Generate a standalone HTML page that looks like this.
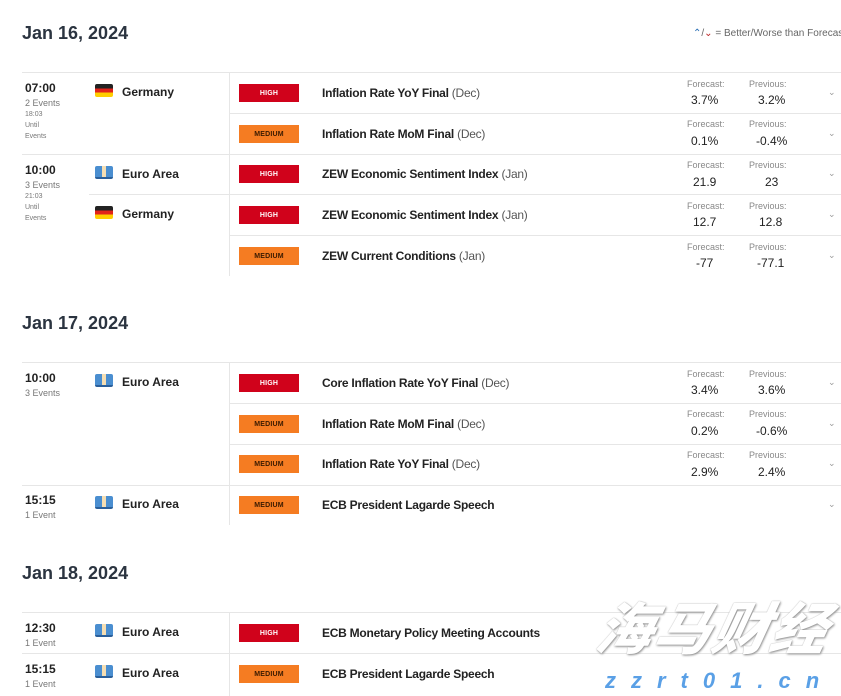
<!DOCTYPE html>
<html><head><meta charset="utf-8"><style>
*{margin:0;padding:0;box-sizing:border-box}
body{width:841px;height:696px;overflow:hidden;background:#fff;font-family:"Liberation Sans",Arial,sans-serif;color:#222;position:relative}
.a{position:absolute;white-space:nowrap}
.h{height:1px;background:#e6e6e6;position:absolute}
.v{width:1px;background:#e6e6e6;position:absolute;left:229px}
.title{font-size:18px;font-weight:bold;color:#2b3440;left:22px}
.badge{left:239px;width:60px;height:18px;font-size:7px;font-weight:bold;display:flex;align-items:center;justify-content:center;letter-spacing:.2px}
.H{background:#d0021b;color:#fff}
.M{background:#f57c22;color:#3a1a00}
.ev{left:322px;font-size:12px;font-weight:bold;color:#222;letter-spacing:-0.25px}
.ev span{font-weight:normal;color:#555}
.lab{font-size:9px;color:#888}
.val{font-size:12px;color:#222}
.chev{left:828px;font-size:9px;color:#999}
.time{left:25px;font-size:12px;font-weight:bold}
.cnt{left:25px;font-size:9px;color:#777}
.sm{left:25px;font-size:7px;color:#777}
.flag{width:18px;height:13px;left:95px;border-radius:2px}
.de{background:linear-gradient(#222 0 33%,#e2231a 33% 66%,#ffce00 66%)}
.eu{background:linear-gradient(90deg,#4a8ed0 0 40%,#f5deb3 40% 60%,#4a8ed0 60%);border-bottom:2px solid #2a5f9a}
.cn{left:122px;font-size:12px;font-weight:bold;color:#222}
</style></head><body>
<div class="a title" style="top:23px">Jan 16, 2024</div>
<div class="a" style="left:693px;top:28px;font-size:10px;color:#666"><span style="color:#2a6fb5">⌃</span>/<span style="color:#b22">⌄</span> = Better/Worse than Forecast</div>
<div class="a title" style="top:313px">Jan 17, 2024</div>
<div class="a title" style="top:563px">Jan 18, 2024</div>

<div class="h" style="left:22px;width:819px;top:72px"></div>
<div class="h" style="left:230px;width:611px;top:113px"></div>
<div class="h" style="left:22px;width:819px;top:154px"></div>
<div class="h" style="left:89px;width:752px;top:194px"></div>
<div class="h" style="left:230px;width:611px;top:235px"></div>
<div class="v" style="top:72px;height:204px"></div>

<div class="h" style="left:22px;width:819px;top:362px"></div>
<div class="h" style="left:230px;width:611px;top:403px"></div>
<div class="h" style="left:230px;width:611px;top:444px"></div>
<div class="h" style="left:22px;width:819px;top:485px"></div>
<div class="v" style="top:362px;height:163px"></div>

<div class="h" style="left:22px;width:819px;top:612px"></div>
<div class="h" style="left:22px;width:819px;top:653px"></div>
<div class="v" style="top:612px;height:84px"></div>

<div class="a time" style="top:81px">07:00</div>
<div class="a cnt" style="top:98px">2 Events</div>
<div class="a sm" style="top:111px">18:03</div>
<div class="a sm" style="top:122px">Until</div>
<div class="a sm" style="top:133px">Events</div>
<div class="a flag de" style="top:84px"></div><div class="a cn" style="top:85px">Germany</div>

<div class="a time" style="top:163px">10:00</div>
<div class="a cnt" style="top:180px">3 Events</div>
<div class="a sm" style="top:193px">21:03</div>
<div class="a sm" style="top:204px">Until</div>
<div class="a sm" style="top:215px">Events</div>
<div class="a flag eu" style="top:166px"></div><div class="a cn" style="top:167px">Euro Area</div>
<div class="a flag de" style="top:206px"></div><div class="a cn" style="top:207px">Germany</div>

<div class="a time" style="top:371px">10:00</div>
<div class="a cnt" style="top:388px">3 Events</div>
<div class="a flag eu" style="top:374px"></div><div class="a cn" style="top:375px">Euro Area</div>
<div class="a time" style="top:493px">15:15</div>
<div class="a cnt" style="top:510px">1 Event</div>
<div class="a flag eu" style="top:496px"></div><div class="a cn" style="top:497px">Euro Area</div>

<div class="a time" style="top:621px">12:30</div>
<div class="a cnt" style="top:638px">1 Event</div>
<div class="a flag eu" style="top:624px"></div><div class="a cn" style="top:625px">Euro Area</div>
<div class="a time" style="top:662px">15:15</div>
<div class="a cnt" style="top:679px">1 Event</div>
<div class="a flag eu" style="top:665px"></div><div class="a cn" style="top:666px">Euro Area</div>

<div class="a badge H" style="top:84px">HIGH</div><div class="a ev" style="top:86px">Inflation Rate YoY Final <span>(Dec)</span></div>
<div class="a lab" style="left:687px;top:79px">Forecast:</div><div class="a val" style="left:691px;top:93px">3.7%</div>
<div class="a lab" style="left:749px;top:79px">Previous:</div><div class="a val" style="left:758px;top:93px">3.2%</div><div class="a chev" style="top:87px">⌄</div>

<div class="a badge M" style="top:125px">MEDIUM</div><div class="a ev" style="top:127px">Inflation Rate MoM Final <span>(Dec)</span></div>
<div class="a lab" style="left:687px;top:119px">Forecast:</div><div class="a val" style="left:691px;top:134px">0.1%</div>
<div class="a lab" style="left:749px;top:119px">Previous:</div><div class="a val" style="left:756px;top:134px">-0.4%</div><div class="a chev" style="top:128px">⌄</div>

<div class="a badge H" style="top:165px">HIGH</div><div class="a ev" style="top:167px">ZEW Economic Sentiment Index <span>(Jan)</span></div>
<div class="a lab" style="left:687px;top:160px">Forecast:</div><div class="a val" style="left:693px;top:175px">21.9</div>
<div class="a lab" style="left:749px;top:160px">Previous:</div><div class="a val" style="left:765px;top:175px">23</div><div class="a chev" style="top:168px">⌄</div>

<div class="a badge H" style="top:206px">HIGH</div><div class="a ev" style="top:208px">ZEW Economic Sentiment Index <span>(Jan)</span></div>
<div class="a lab" style="left:687px;top:201px">Forecast:</div><div class="a val" style="left:693px;top:215px">12.7</div>
<div class="a lab" style="left:749px;top:201px">Previous:</div><div class="a val" style="left:759px;top:215px">12.8</div><div class="a chev" style="top:209px">⌄</div>

<div class="a badge M" style="top:247px">MEDIUM</div><div class="a ev" style="top:249px">ZEW Current Conditions <span>(Jan)</span></div>
<div class="a lab" style="left:687px;top:242px">Forecast:</div><div class="a val" style="left:696px;top:256px">-77</div>
<div class="a lab" style="left:749px;top:242px">Previous:</div><div class="a val" style="left:757px;top:256px">-77.1</div><div class="a chev" style="top:250px">⌄</div>

<div class="a badge H" style="top:374px">HIGH</div><div class="a ev" style="top:376px">Core Inflation Rate YoY Final <span>(Dec)</span></div>
<div class="a lab" style="left:687px;top:369px">Forecast:</div><div class="a val" style="left:691px;top:383px">3.4%</div>
<div class="a lab" style="left:749px;top:369px">Previous:</div><div class="a val" style="left:758px;top:383px">3.6%</div><div class="a chev" style="top:377px">⌄</div>

<div class="a badge M" style="top:415px">MEDIUM</div><div class="a ev" style="top:417px">Inflation Rate MoM Final <span>(Dec)</span></div>
<div class="a lab" style="left:687px;top:409px">Forecast:</div><div class="a val" style="left:691px;top:424px">0.2%</div>
<div class="a lab" style="left:749px;top:409px">Previous:</div><div class="a val" style="left:756px;top:424px">-0.6%</div><div class="a chev" style="top:418px">⌄</div>

<div class="a badge M" style="top:455px">MEDIUM</div><div class="a ev" style="top:457px">Inflation Rate YoY Final <span>(Dec)</span></div>
<div class="a lab" style="left:687px;top:450px">Forecast:</div><div class="a val" style="left:691px;top:465px">2.9%</div>
<div class="a lab" style="left:749px;top:450px">Previous:</div><div class="a val" style="left:758px;top:465px">2.4%</div><div class="a chev" style="top:458px">⌄</div>

<div class="a badge M" style="top:496px">MEDIUM</div><div class="a ev" style="top:498px">ECB President Lagarde Speech</div><div class="a chev" style="top:499px">⌄</div>

<div class="a badge H" style="top:624px">HIGH</div><div class="a ev" style="top:626px">ECB Monetary Policy Meeting Accounts</div>
<div class="a badge M" style="top:665px">MEDIUM</div><div class="a ev" style="top:667px">ECB President Lagarde Speech</div>

<div class="a" style="left:598px;top:596px;font-family:'Noto Sans CJK SC',sans-serif;font-size:56px;font-weight:900;font-style:italic;color:#fff;letter-spacing:2px;line-height:60px;text-shadow:1px 1px 2px #888,0 0 1px #aaa;transform:skewX(-12deg)">海马财经</div>
<div class="a" style="left:605px;top:668px;font-size:22px;font-weight:bold;font-style:italic;color:#5aa0e6;letter-spacing:15px">zzrt01.cn</div>
</body></html>
